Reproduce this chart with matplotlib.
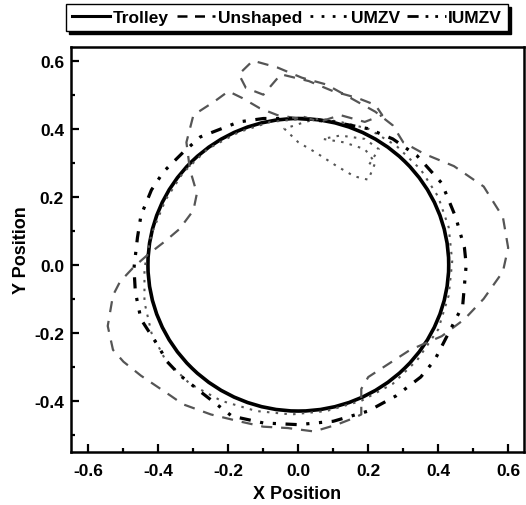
import matplotlib
matplotlib.use("Agg")
import matplotlib.pyplot as plt
from matplotlib.patches import Circle
from matplotlib.lines import Line2D

# trolley path: circle centred at the origin
trolley_center = (0.0, 0.0)
trolley_radius = 0.43

# payload, no shaping (counter-clockwise from the top)
unshaped_x = [0.00, -0.06, -0.11, -0.16, -0.20, -0.24, -0.30, -0.32, -0.31, -0.29,
              -0.30, -0.34, -0.38, -0.43, -0.47, -0.51, -0.53, -0.545, -0.53, -0.50,
              -0.45, -0.365, -0.33, -0.25, -0.17, -0.10, -0.03, 0.045, 0.11, 0.16,
              0.18, 0.18, 0.18, 0.20, 0.245, 0.32, 0.41, 0.475, 0.53, 0.585,
              0.60, 0.585, 0.53, 0.445, 0.36, 0.30, 0.27, 0.22, 0.15, 0.08,
              0.01, -0.06, -0.13, -0.17, -0.15, -0.10, -0.05, 0.03, 0.10, 0.17,
              0.22, 0.24, 0.19, 0.12, 0.06, 0.00]
unshaped_y = [0.43, 0.44, 0.46, 0.49, 0.51, 0.48, 0.44, 0.36, 0.28, 0.21,
              0.16, 0.105, 0.07, 0.03, -0.006, -0.05, -0.09, -0.18, -0.25, -0.285,
              -0.326, -0.385, -0.41, -0.44, -0.46, -0.476, -0.48, -0.49, -0.47, -0.45,
              -0.44, -0.40, -0.365, -0.33, -0.30, -0.25, -0.21, -0.16, -0.10, -0.02,
              0.05, 0.14, 0.23, 0.29, 0.326, 0.36, 0.41, 0.45, 0.49, 0.53,
              0.55, 0.58, 0.60, 0.56, 0.52, 0.50, 0.56, 0.54, 0.51, 0.49,
              0.47, 0.44, 0.42, 0.44, 0.42, 0.44]

# UMZV shaped payload
umzv_x = [0.02, -0.08, -0.17, -0.26, -0.33, -0.38, -0.42, -0.44, -0.44, -0.42,
          -0.38, -0.31, -0.22, -0.12, -0.02, 0.08, 0.18, 0.27, 0.34, 0.40,
          0.43, 0.44, 0.43, 0.40, 0.35, 0.28, 0.20, 0.12, 0.06, 0.02,
          -0.04, 0.00, 0.05, 0.11, 0.16, 0.20, 0.22, 0.19, 0.13, 0.07,
          0.12, 0.19, 0.23, 0.20]
umzv_y = [0.43, 0.42, 0.39, 0.34, 0.27, 0.19, 0.09, -0.01, -0.11, -0.20,
          -0.28, -0.35, -0.40, -0.43, -0.44, -0.43, -0.40, -0.35, -0.28, -0.19,
          -0.09, 0.01, 0.11, 0.20, 0.28, 0.35, 0.40, 0.42, 0.43, 0.42,
          0.40, 0.36, 0.33, 0.29, 0.26, 0.25, 0.30, 0.34, 0.36, 0.37,
          0.38, 0.37, 0.34, 0.29]

# IUMZV shaped payload
iumzv_x = [0.00, 0.10, 0.20, 0.27, 0.34, 0.41, 0.45, 0.475, 0.48, 0.47,
           0.43, 0.39, 0.35, 0.28, 0.20, 0.10, 0.00, -0.10, -0.19, -0.28,
           -0.337, -0.375, -0.40, -0.45, -0.466, -0.47, -0.46, -0.45, -0.42, -0.385,
           -0.33, -0.28, -0.22, -0.17, -0.10, 0.00]
iumzv_y = [0.43, 0.42, 0.40, 0.37, 0.32, 0.24, 0.14, 0.05, 0.00, -0.12,
           -0.20, -0.28, -0.33, -0.385, -0.43, -0.46, -0.47, -0.465, -0.445, -0.373,
           -0.326, -0.285, -0.24, -0.16, -0.08, -0.01, 0.08, 0.145, 0.22, 0.274,
           0.33, 0.376, 0.40, 0.42, 0.43, 0.43]

x_ticks = [-0.6, -0.4, -0.2, 0.0, 0.2, 0.4, 0.6]
y_ticks = [-0.4, -0.2, 0.0, 0.2, 0.4, 0.6]

plt.rcParams["font.family"] = ["Liberation Sans", "DejaVu Sans"]
plt.rcParams["font.weight"] = "bold"

gray = "#555555"

fig = plt.figure(figsize=(5.26, 5.06), dpi=100)
ax = fig.add_axes([0.135, 0.105, 0.861, 0.800])

ax.plot(unshaped_x, unshaped_y, color=gray, lw=1.6, dashes=(5, 4))
ax.plot(umzv_x, umzv_y, color=gray, lw=1.5, dashes=(1.2, 3))
ax.plot(iumzv_x, iumzv_y, color="black", lw=2.3, dashes=(3.5, 3, 1, 3, 1, 3))
ax.add_patch(Circle(trolley_center, trolley_radius, fill=False, ec="black", lw=2.6))

ax.set_xticks(x_ticks)
ax.set_yticks(y_ticks)
ax.set_xticks([v + 0.1 for v in [-0.8] + x_ticks], minor=True)
ax.set_yticks([v + 0.1 for v in [-0.6] + y_ticks], minor=True)
ax.set_xlim(-0.65, 0.645)
ax.set_ylim(-0.55, 0.64)
ax.tick_params(which="both", direction="in", top=False, right=False, width=1.6,
               labelsize=12.5)
ax.tick_params(axis="x", pad=8)
ax.tick_params(axis="y", pad=5)
ax.tick_params(which="major", length=6)
ax.tick_params(which="minor", length=3)
ax.xaxis.set_major_formatter(plt.FormatStrFormatter("%.1f"))
ax.yaxis.set_major_formatter(plt.FormatStrFormatter("%.1f"))
for spine in ax.spines.values():
    spine.set_linewidth(1.8)

ax.set_xlabel("X Position", fontsize=13, fontweight="bold", labelpad=5)
ax.set_ylabel("Y Position", fontsize=13, fontweight="bold", labelpad=3)

handles = [
    Line2D([], [], color="black", lw=2.2),
    Line2D([], [], color="black", lw=1.8, dashes=(4, 3)),
    Line2D([], [], color="black", lw=2, dashes=(1, 3)),
    Line2D([], [], color="black", lw=2, dashes=(4, 2.5, 1, 2.5, 1, 2.5)),
]
labels = ["Trolley", "Unshaped", "UMZV", "IUMZV"]
fig.legend(handles, labels, loc="center", bbox_to_anchor=(0.546, 0.963), ncol=4,
           prop={"size": 12.5, "weight": "bold"}, handlelength=2.2, handletextpad=0.15,
           columnspacing=0.45, borderpad=0.35, fancybox=False, edgecolor="black",
           framealpha=1, shadow={"color": "black", "alpha": 1})

fig.savefig("out.png", dpi=100)
